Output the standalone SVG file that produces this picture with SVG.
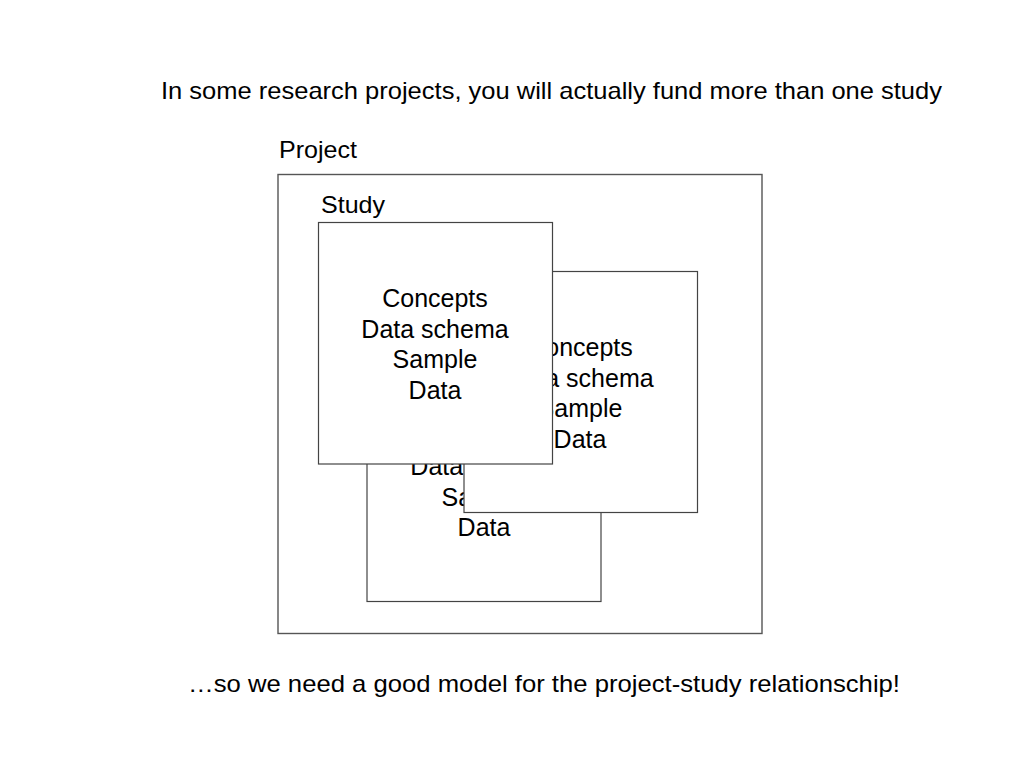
<svg xmlns="http://www.w3.org/2000/svg" width="1024" height="768" viewBox="0 0 1024 768">
<style>
text{font-family:"Liberation Sans",Arial,sans-serif;font-size:24px;fill:#000}
.c{text-anchor:middle;font-size:25px}
.box{fill:#fff;stroke:#444;stroke-width:1.2}
.outer{fill:#fff;stroke:#555;stroke-width:1.4}
</style>
<rect width="1024" height="768" fill="#fff"/>
<text id="title" x="161" y="99" textLength="781" lengthAdjust="spacingAndGlyphs">In some research projects, you will actually fund more than one study</text>
<g id="project">
<text x="279" y="158" textLength="78" lengthAdjust="spacingAndGlyphs">Project</text>
<rect class="outer" x="278" y="174.5" width="484" height="459"/>
</g>
<text id="study-label" x="321" y="213" textLength="64" lengthAdjust="spacingAndGlyphs">Study</text>
<g id="study3">
<rect class="box" x="367" y="359.5" width="234" height="242"/>
<text class="c" x="484" y="444">Concepts</text>
<text class="c" x="484" y="475">Data schema</text>
<text class="c" x="484" y="506">Sample</text>
<text class="c" x="484" y="536">Data</text>
</g>
<g id="study2">
<rect class="box" x="464" y="271.5" width="233.5" height="241"/>
<text class="c" x="580" y="356">Concepts</text>
<text class="c" x="580" y="387">Data schema</text>
<text class="c" x="580" y="417">Sample</text>
<text class="c" x="580" y="448">Data</text>
</g>
<g id="study1">
<rect class="box" x="318.5" y="222.5" width="234" height="241.5"/>
<text class="c" x="435" y="307">Concepts</text>
<text class="c" x="435" y="338">Data schema</text>
<text class="c" x="435" y="368">Sample</text>
<text class="c" x="435" y="399">Data</text>
</g>
<g id="connectors"></g>
<text id="footer" x="188" y="692" textLength="712" lengthAdjust="spacingAndGlyphs">…so we need a good model for the project-study relationschip!</text>
</svg>
